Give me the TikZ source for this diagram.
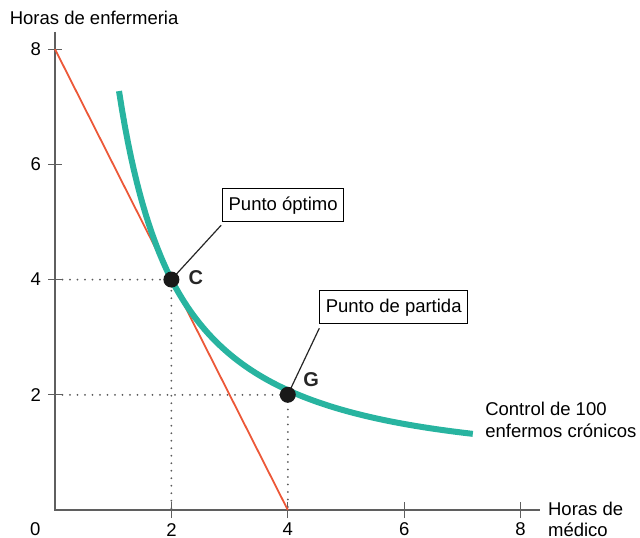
\documentclass[tikz,border=0pt]{standalone}
\usepackage{fontspec}
\setmainfont{Liberation Sans}
\definecolor{axisgray}{RGB}{95,95,95}
\definecolor{curveteal}{RGB}{40,180,160}
\definecolor{budgetred}{RGB}{236,88,56}
\definecolor{dotgray}{RGB}{90,90,90}
\begin{document}
\begin{tikzpicture}[x=58.2pt,y=57.6pt,
  lbl/.style={font=\fontsize{18.5}{21}\selectfont, inner sep=0pt},
  axisline/.style={draw=axisgray, line width=2.4pt},
  tickline/.style={draw=axisgray, line width=1.2pt},
  guide/.style={draw=dotgray, line width=2pt, line cap=round, dash pattern=on 0pt off 7.5pt},
  callout/.style={draw=black, line width=1pt, fill=white, font=\fontsize{18.5}{21}\selectfont, inner xsep=6pt, inner ysep=0pt, minimum height=33pt},
  leader/.style={draw=black!85, line width=1.2pt},
  ptdot/.style={circle, fill=black!90, inner sep=0pt, minimum size=16pt},
  ptname/.style={font=\fontsize{20}{22}\selectfont\bfseries, inner sep=0pt, text=black!85}
]
\useasboundingbox (-0.945,-0.486) rectangle (10.052,8.854);

% guide (dotted) lines
\coordinate (y4) at (0,4);
\coordinate (x2) at (2,0);
\coordinate (y2) at (0,2);
\coordinate (x4) at (4,0);
\coordinate (pc) at (2,4);
\coordinate (pg) at (4,2);
\draw[guide] (y4) -- (pc) -- (x2);
\draw[guide] (y2) -- (pg) -- (x4);

% axes
\coordinate (O) at (0,0);
\coordinate (ytop) at (0,8.3);
\coordinate (xend) at (8.33,0);
\draw[axisline] (ytop) -- (O) -- (xend);
\foreach \v in {2,4,6,8}{
  \draw[tickline] (-0.12,\v) -- (0.12,\v);
  \draw[tickline] (\v,-0.14) -- (\v,0.14);
  \node[lbl] (ylab\v) at (-0.33,\v) {\v};
  \node[lbl] (xlab\v) at (\v+0.0,-0.34) {\v};
}
\node[lbl] (xlab0) at (-0.34,-0.34) {0};

% budget line
\coordinate (b1) at (0,8);
\coordinate (b2) at (4,0);
\draw[draw=budgetred, line width=1.8pt] (b1) -- (b2);

% isoquant
\draw[draw=curveteal, line width=6pt, samples=120, domain=1.1:7.18]
  plot (\x, {8/\x + 0.04*max(\x-2,0)});

% callouts
\node[callout] (opt) at (3.92,5.29) {Punto óptimo};
\node[callout] (part) at (5.82,3.52) {Punto de partida};
\draw[leader] (pc) -- ([xshift=-1pt,yshift=-3pt]opt.south west);
\draw[leader] (pg) -- ([yshift=-4pt]part.south west);

% points
\node[ptdot] (C) at (pc) {};
\node[ptdot] (G) at (pg) {};
\node[ptname] (Cname) at (2.42,4.03) {C};
\node[ptname] (Gname) at (4.40,2.26) {G};

% axis titles and labels
\node[lbl, anchor=west] (ytitle) at (-0.78,8.54) {Horas de enfermeria};
\node[lbl, anchor=west, align=left, font=\fontsize{18.5}{21}\selectfont] (xtitle) at (8.47,-0.16) {Horas de\\médico};
\node[lbl, anchor=west, align=left, font=\fontsize{18.5}{22}\selectfont] (curvelab) at (7.39,1.56) {Control de 100\\enfermos crónicos};
\end{tikzpicture}
\end{document}
